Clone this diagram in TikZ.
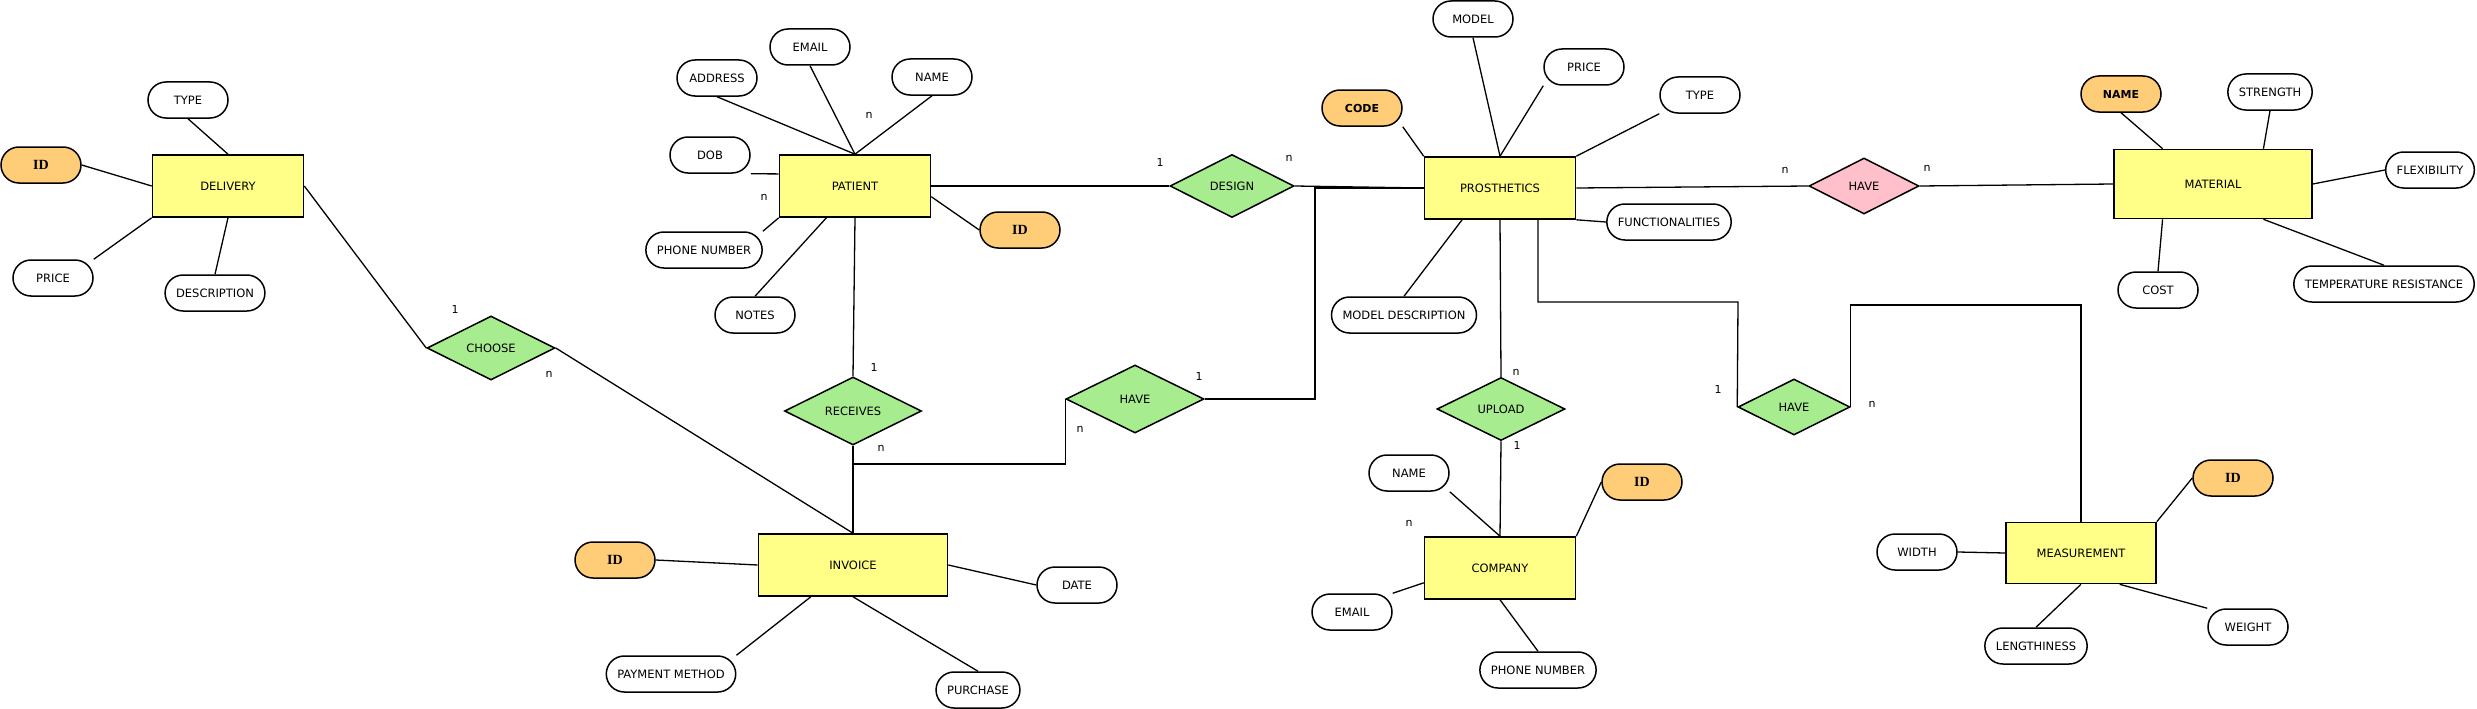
\documentclass[tikz,border=0pt]{standalone}
\usepackage{fontspec}
\usepackage{tikz}
\usetikzlibrary{shapes.geometric}
\setmainfont{DejaVu Sans}
\newfontfamily\keyfont{Liberation Serif}
\definecolor{entityfill}{HTML}{FFFF88}
\definecolor{keyfill}{HTML}{FFCC77}
\definecolor{relfill}{HTML}{A8EC90}
\definecolor{pinkfill}{HTML}{FFC0CB}

\begin{document}
\begin{tikzpicture}[
  x=1pt, y=-1pt,
  font=\fontsize{11.5}{13}\selectfont,
  entity/.style={rectangle, draw, fill=entityfill, line width=1.6pt,
                 minimum width=151pt, minimum height=62pt},
  attr/.style={rectangle, rounded corners=18pt, draw, fill=white, line width=1.5pt,
               minimum width=80pt, minimum height=36pt, inner xsep=11pt},
  keyattr/.style={attr, fill=keyfill, font=\fontsize{11}{13}\selectfont\bfseries},
  rel/.style={diamond, draw, fill=relfill, line width=1.5pt, inner sep=0pt,
              minimum width=128pt, minimum height=64pt},
  link/.style={line width=1.3pt},
  card/.style={font=\fontsize{11}{13}\selectfont},
]
  \useasboundingbox (0,0) rectangle (2477,709);

  % entities
  \node[entity] (delivery) at (228,186) {DELIVERY};
  \node[entity] (patient) at (855,186) {PATIENT};
  \node[entity] (prosth) at (1500,188) {PROSTHETICS};
  \node[entity, minimum width=198pt, minimum height=69pt] (material) at (2213,184) {MATERIAL};
  \node[entity, minimum width=189pt] (invoice) at (853,565) {INVOICE};
  \node[entity] (company) at (1500,568) {COMPANY};
  \node[entity, minimum width=150pt, minimum height=61pt] (meas) at (2081,553) {MEASUREMENT};

  % relationships
  \node[rel] (choose) at (491,348) {CHOOSE};
  \node[rel, minimum width=124pt, minimum height=63pt] (design) at (1232,186) {DESIGN};
  \node[rel, minimum width=137pt, minimum height=68pt] (receives) at (853,411) {RECEIVES};
  \node[rel, minimum width=138pt, minimum height=68pt] (havemid) at (1135,399) {HAVE};
  \node[rel, minimum height=63pt] (upload) at (1501,409) {UPLOAD};
  \node[rel, fill=pinkfill, minimum width=110pt, minimum height=56pt] (havemat) at (1864,186) {HAVE};
  \node[rel, minimum width=112pt, minimum height=56pt] (havemeas) at (1794,407) {HAVE};

  % attributes
  \node[attr] (dtype) at (188,100) {TYPE};
  \node[keyattr] (did) at (41,165) {\keyfont\fontsize{14}{16}\selectfont ID};
  \node[attr] (dprice) at (53,278) {PRICE};
  \node[attr] (ddesc) at (215,293) {DESCRIPTION};

  \node[attr] (paddress) at (717,78) {ADDRESS};
  \node[attr] (pemail) at (810,47) {EMAIL};
  \node[attr] (pname) at (932,77) {NAME};
  \node[attr] (pdob) at (710,155) {DOB};
  \node[attr] (pphone) at (704,250) {PHONE NUMBER};
  \node[attr] (pnotes) at (755,315) {NOTES};
  \node[keyattr] (pid) at (1020,230) {\keyfont\fontsize{14}{16}\selectfont ID};

  \node[keyattr] (prcode) at (1362,108) {CODE};
  \node[attr] (prmodel) at (1473,19) {MODEL};
  \node[attr] (prprice) at (1584,67) {PRICE};
  \node[attr] (prtype) at (1700,95) {TYPE};
  \node[attr] (prfunc) at (1669,222) {FUNCTIONALITIES};
  \node[attr] (prmdesc) at (1404,315) {MODEL DESCRIPTION};

  \node[keyattr] (mname) at (2121,94) {NAME};
  \node[attr] (mstrength) at (2270,92) {STRENGTH};
  \node[attr] (mflex) at (2430,170) {FLEXIBILITY};
  \node[attr] (mcost) at (2158,290) {COST};
  \node[attr] (mtemp) at (2384,284) {TEMPERATURE RESISTANCE};

  \node[keyattr] (iid) at (615,560) {\keyfont\fontsize{14}{16}\selectfont ID};
  \node[attr] (idate) at (1077,585) {DATE};
  \node[attr] (ipay) at (671,674) {PAYMENT METHOD};
  \node[attr] (ipurchase) at (978,690) {PURCHASE};

  \node[attr] (cname) at (1409,473) {NAME};
  \node[keyattr] (cid) at (1642,482) {\keyfont\fontsize{14}{16}\selectfont ID};
  \node[attr] (cemail) at (1352,612) {EMAIL};
  \node[attr] (cphone) at (1538,670) {PHONE NUMBER};

  \node[keyattr] (meid) at (2233,478) {\keyfont\fontsize{14}{16}\selectfont ID};
  \node[attr] (mewidth) at (1917,552) {WIDTH};
  \node[attr] (melength) at (2036,646) {LENGTHINESS};
  \node[attr] (meweight) at (2248,627) {WEIGHT};

  % straight connectors
  \foreach \from/\to in {dtype.south/delivery.north, did.east/delivery.west,
      delivery.south west/dprice.north east, delivery.south/ddesc.north,
      delivery.east/choose.west,
      paddress.south/patient.north, pemail.south/patient.north,
      pname.south/patient.north, pdob.south east/patient.171,
      patient.south west/pphone.north east, patient.228/pnotes.north,
      patient.-8/pid.west, patient.east/design.west, patient.south/receives.north,
      prcode.south east/prosth.north west, prmodel.south/prosth.north,
      prprice.south west/prosth.north, prtype.south west/prosth.north east,
      prfunc.west/prosth.south east, prosth.220/prmdesc.north,
      design.east/prosth.west, prosth.east/havemat.west, prosth.south/upload.north,
      havemat.east/material.west, mname.south/material.145,
      mstrength.south/material.35, material.east/mflex.west,
      material.215/mcost.north, material.-35/mtemp.north,
      choose.east/invoice.north, receives.south/invoice.north,
      iid.east/invoice.west, invoice.east/idate.west,
      invoice.217/ipay.north east, invoice.south/ipurchase.north,
      upload.south/company.north, cname.south east/company.north,
      cid.west/company.north east, cemail.north east/company.191,
      company.south/cphone.north,
      meid.west/meas.north east, mewidth.east/meas.west,
      meas.south/melength.north, meas.-39/meweight.north west} {
    \draw[link] (\from) -- (\to);
  }

  % bent connectors
  \coordinate (rjoin) at (853,464);
  \coordinate (pbend) at (1315,188);
  \coordinate (hbend) at (1738,302);
  \coordinate (mbend) at (2081,305);
  \draw[link] (havemid.west) |- (rjoin);
  \draw[link] (havemid.east) -| (pbend) -- (prosth.west);
  \draw[link] ([xshift=38pt]prosth.south) |- (hbend) -- (havemeas.west);
  \draw[link] (havemeas.east) |- (mbend) -- (meas.north);

  % cardinalities
  \foreach \pos/\txt [count=\i] in {{(455,309)}/1, {(549,374)}/n,
      {(869,115)}/n, {(764,197)}/n, {(1160,162)}/1, {(1289,158)}/n,
      {(874,367)}/1, {(881,448)}/n, {(1199,376)}/1, {(1080,429)}/n,
      {(1516,372)}/n, {(1517,445)}/1, {(1409,523)}/n,
      {(1785,170)}/n, {(1927,168)}/n, {(1718,389)}/1, {(1872,404)}/n} {
    \node[card] (card\i) at \pos {\txt};
  }
\end{tikzpicture}
\end{document}
